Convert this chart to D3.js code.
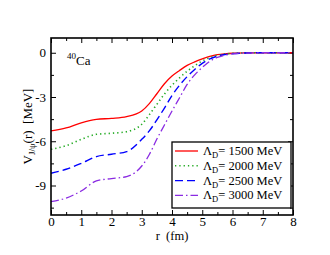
<!DOCTYPE html>
<html lang="en">
<head>
    <meta charset="UTF-8">
    <title>J/psi potential in 40Ca</title>
    <script src="https://cdn.jsdelivr.net/npm/d3@7"></script>
</head>
<body>
<style>
    body {
        margin: 0;
        background-color: white;
    }
    svg {
        display: block;
    }
    svg text {
        font-family: "Liberation Serif", "DejaVu Serif", serif;
    }
    .axis path {
        display: none;
    }
    .axis line {
        stroke: black;
        stroke-width: 1;
    }
    .axis text {
        font-size: 13px;
        fill: black;
    }
</style>

<svg width="330" height="255" font-family="Liberation Serif"></svg>

<script>
    // radius (fm)
    var radius = [0, 0.5, 1, 1.5, 2, 2.5, 3, 3.25, 3.5, 3.75, 4, 4.25, 4.5, 4.75, 5, 5.25, 5.5, 5.75, 6, 6.5, 7, 8];
    // V_J/psi(r) in MeV for each cutoff
    var v1500 = [-5.3, -5.1, -4.75, -4.52, -4.45, -4.33, -3.95, -3.45, -2.78, -2.1, -1.58, -1.2, -0.86, -0.62, -0.42, -0.25, -0.13, -0.07, -0.035, -0.01, 0, 0];
    var v2000 = [-6.55, -6.3, -5.87, -5.53, -5.46, -5.35, -4.85, -4.2, -3.5, -2.8, -2.2, -1.7, -1.25, -0.88, -0.56, -0.33, -0.18, -0.09, -0.045, -0.01, 0, 0];
    var v2500 = [-8.17, -7.9, -7.5, -7.04, -6.88, -6.7, -5.87, -5.3, -4.55, -3.75, -2.9, -2.2, -1.62, -1.13, -0.72, -0.42, -0.23, -0.12, -0.06, -0.015, 0, 0];
    var v3000 = [-10.1, -9.85, -9.37, -8.69, -8.53, -8.4, -7.68, -6.9, -5.85, -4.9, -3.95, -3.05, -2.15, -1.5, -1.0, -0.58, -0.32, -0.17, -0.08, -0.02, 0, 0];
    var cutoffs = ["1500", "2000", "2500", "3000"];
    var xTicks = [0, 1, 2, 3, 4, 5, 6, 7, 8];
    var xMinor = [0.5, 1.5, 2.5, 3.5, 4.5, 5.5, 6.5, 7.5];
    var yTicks = [0, -3, -6, -9];
    var yMinor = [-1.5, -4.5, -7.5, -10.5];

    var series = [
        {lambda: cutoffs[0], values: v1500, color: "#ff0000", dash: null, width: 1.3},
        {lambda: cutoffs[1], values: v2000, color: "#22aa22", dash: "1.3,3", width: 1.6},
        {lambda: cutoffs[2], values: v2500, color: "#0000ff", dash: "8,4", width: 1.4},
        {lambda: cutoffs[3], values: v3000, color: "#8a2be2", dash: "8,3,1.5,3", width: 1.3}
    ];

    var svg = d3.select("svg");
    // plot box (note: "top" is a reserved window property)
    var pLeft = 51, pRight = 293, pTop = 38, pBottom = 215;

    var getX = d3.scaleLinear().domain([0, 8]).range([pLeft, pRight]);
    var getY = d3.scaleLinear().domain([-11, 1]).range([pBottom, pTop]);

    // major and minor ticks on all four sides, pointing inward
    function tickAxes(axisFn, scale, ticks, size, transform) {
        svg.append("g")
            .attr("class", "axis")
            .attr("transform", transform)
            .call(axisFn(scale).tickValues(ticks).tickSize(size).tickFormat(""));
    }
    tickAxes(d3.axisBottom, getX, xTicks, -5, "translate(0," + pBottom + ")");
    tickAxes(d3.axisBottom, getX, xMinor, -3, "translate(0," + pBottom + ")");
    tickAxes(d3.axisTop, getX, xTicks, -5, "translate(0," + pTop + ")");
    tickAxes(d3.axisTop, getX, xMinor, -3, "translate(0," + pTop + ")");
    tickAxes(d3.axisLeft, getY, yTicks, -5, "translate(" + pLeft + ",0)");
    tickAxes(d3.axisLeft, getY, yMinor, -3, "translate(" + pLeft + ",0)");
    tickAxes(d3.axisRight, getY, yTicks, -5, "translate(" + pRight + ",0)");
    tickAxes(d3.axisRight, getY, yMinor, -3, "translate(" + pRight + ",0)");

    // tick labels
    svg.append("g")
        .attr("class", "axis")
        .attr("transform", "translate(0," + pBottom + ")")
        .call(d3.axisBottom(getX).tickValues(xTicks).tickSize(0).tickPadding(2).tickFormat(d3.format("d")));
    svg.append("g")
        .attr("class", "axis")
        .attr("transform", "translate(" + pLeft + ",0)")
        .call(d3.axisLeft(getY).tickValues(yTicks).tickSize(0).tickPadding(5).tickFormat(function (d) {
            return d < 0 ? "-" + Math.abs(d) : d;
        }));
    svg.selectAll(".axis").attr("font-family", "Liberation Serif");

    // curves
    var line = d3.line()
        .x(function (d) { return getX(d[0]); })
        .y(function (d) { return getY(d[1]); })
        .curve(d3.curveMonotoneX);

    svg.append("g")
        .selectAll("path")
        .data(series)
        .enter()
        .append("path")
        .attr("fill", "none")
        .attr("stroke", function (d) { return d.color; })
        .attr("stroke-width", function (d) { return d.width; })
        .attr("stroke-dasharray", function (d) { return d.dash; })
        .attr("d", function (d) {
            return line(radius.map(function (r, i) { return [r, d.values[i]]; }));
        });

    // frame
    svg.append("rect")
        .attr("x", pLeft)
        .attr("y", pTop)
        .attr("width", pRight - pLeft)
        .attr("height", pBottom - pTop)
        .attr("fill", "none")
        .attr("stroke", "black")
        .attr("stroke-width", 1.6);

    // nucleus label
    var ca = svg.append("text")
        .attr("x", 67)
        .attr("y", 65)
        .attr("font-size", 13);
    ca.append("tspan").attr("font-size", 9).attr("dy", -6).text("40");
    ca.append("tspan").attr("dy", 6).text("Ca");

    // axis titles
    svg.append("text")
        .attr("x", (pLeft + pRight) / 2)
        .attr("y", 240)
        .attr("text-anchor", "middle")
        .attr("font-size", 12.5)
        .attr("xml:space", "preserve")
        .text("r  (fm)");

    var yTitle = svg.append("text")
        .attr("transform", "translate(32," + ((pTop + pBottom) / 2) + ") rotate(-90)")
        .attr("text-anchor", "middle")
        .attr("font-size", 13)
        .attr("xml:space", "preserve");
    yTitle.append("tspan").text("V");
    yTitle.append("tspan").attr("font-size", 9).attr("dy", 3).text("J/\u03c8");
    yTitle.append("tspan").attr("dy", -3).text("(r)  [MeV]");

    // legend
    var legend = svg.append("g");
    legend.append("rect")
        .attr("x", 172)
        .attr("y", 142)
        .attr("width", 119)
        .attr("height", 66)
        .attr("fill", "white")
        .attr("stroke", "black")
        .attr("stroke-width", 1.3);

    var rows = legend.selectAll(".row")
        .data(series)
        .enter()
        .append("g")
        .attr("class", "row")
        .attr("transform", function (d, i) { return "translate(0," + (151 + i * 14.8) + ")"; });
    rows.append("line")
        .attr("x1", 175)
        .attr("x2", 198)
        .attr("stroke", function (d) { return d.color; })
        .attr("stroke-width", function (d) { return d.width; })
        .attr("stroke-dasharray", function (d) { return d.dash; });
    var lt = rows.append("text")
        .attr("x", 203)
        .attr("y", 4)
        .attr("font-size", 12.5)
        .attr("xml:space", "preserve");
    lt.append("tspan").text("\u039b");
    lt.append("tspan").attr("font-size", 8.5).attr("dy", 3).text("D");
    lt.append("tspan").attr("dy", -3).text(function (d) { return "= " + d.lambda + " MeV"; });
</script>
</body>
</html>
